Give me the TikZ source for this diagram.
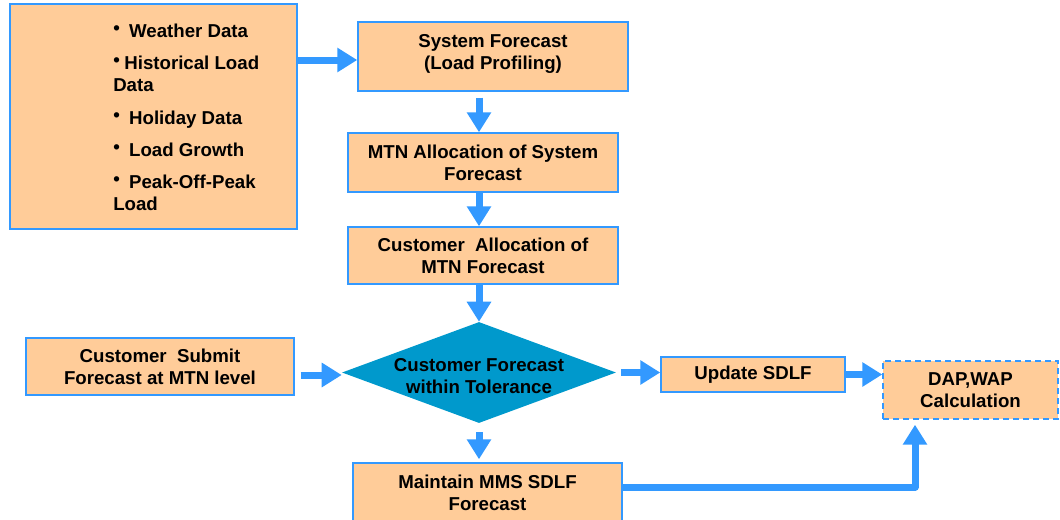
\documentclass[tikz,border=0pt]{standalone}
\usepackage{fontspec}
\setmainfont{Liberation Sans}
\usetikzlibrary{arrows.meta,shapes.geometric,calc}
\definecolor{peach}{RGB}{255,204,153}
\definecolor{edgeblue}{RGB}{51,153,255}
\definecolor{diafill}{RGB}{0,153,204}
\newcommand{\mybul}{\raisebox{2pt}{•}}
\begin{document}
\begin{tikzpicture}[x=0.75pt,y=-0.75pt,
  every node/.style={font=\fontsize{14}{16.5}\selectfont\bfseries, text=black},
  box/.style={draw=edgeblue, line width=1.1pt, fill=peach, inner sep=0pt, align=center},
  txt/.style={anchor=base west, inner sep=0pt},
  arr/.style={draw=edgeblue, line width=5.25pt, line join=round, -{Triangle[width=17.5pt,length=15pt]}}]
\useasboundingbox (0,0) rectangle (1060,519);

% input box with bullet list
\node[box, minimum width=215.25pt, minimum height=168.75pt] (inputs) at (153.5,116.5) {};
\node[txt] (t1) at (113,37) {\mybul\hspace{7pt}Weather Data};
\node[txt] (t2) at (113,69) {\mybul\hspace{3.4pt}Historical Load};
\node[txt] (t2b) at (113,91) {Data};
\node[txt] (t3) at (113,124) {\mybul\hspace{7pt}Holiday Data};
\node[txt] (t4) at (113,156) {\mybul\hspace{7pt}Load Growth};
\node[txt] (t5) at (113,188) {\mybul\hspace{7pt}Peak-Off-Peak};
\node[txt] (t5b) at (113,210) {Load};

% process boxes
\node[box, minimum width=202.5pt, minimum height=51.75pt] (sf) at (493,56.5) {System Forecast\\(Load Profiling)\\[-9.75pt]};
\node[box, minimum width=202.5pt, minimum height=44.25pt] (mtn) at (483,162.5) {MTN Allocation of System\\Forecast};
\node[box, minimum width=202.5pt, minimum height=42.75pt] (ca) at (483,255.5) {Customer\ \ Allocation of\\MTN Forecast};
\node[diamond, fill=diafill, inner sep=0pt, minimum width=205.5pt, minimum height=75.75pt] (dia) at (479,372.5) {};
\node[align=center, inner sep=0pt] (diatext) at (479,376) {Customer Forecast\\within Tolerance};
\node[box, minimum width=201pt, minimum height=42.75pt] (cs) at (160,366.5) {Customer\ \ Submit\\Forecast at MTN level};
\node[box, minimum width=138pt, minimum height=26.25pt] (up) at (753,374.5) {Update SDLF};
\node[box, dashed, dash pattern=on 4.5pt off 3pt, minimum width=131.25pt, minimum height=43.5pt] (dap) at (970.5,390) {DAP,WAP\\Calculation};
\node[box, minimum width=201.75pt, minimum height=44.25pt] (mm) at (487.5,492.5) {Maintain MMS SDLF\\Forecast};

% connectors
\draw[arr] ($(inputs.east |- sf.west)+(0,3.5)$) -- ($(sf.west)+(0,3.5)$);
\draw[arr] ($(sf.south -| dia.north)+(0,6)$) -- (mtn.north -| dia.north);
\draw[arr] (mtn.south -| dia.north) -- (ca.north -| dia.north);
\draw[arr] (ca.south -| dia.north) -- (dia.north);
\draw[arr] ($(dia.south)+(0,9)$) -- ($(mm.north -| dia.south)+(0,-3)$);
\draw[arr] ($(cs.east |- dia.west)+(6,2.5)$) -- ($(dia.west)+(0,2.5)$);
\draw[arr] ($(dia.east)+(5,0)$) -- (up.west |- dia.east);
\draw[arr] (up.east) -- (dap.west |- up.east);
\draw[arr] ($(mm.east)+(0,-5.5)$) -| ($(dap.south)+(-55.5,5)$);
\end{tikzpicture}
\end{document}
